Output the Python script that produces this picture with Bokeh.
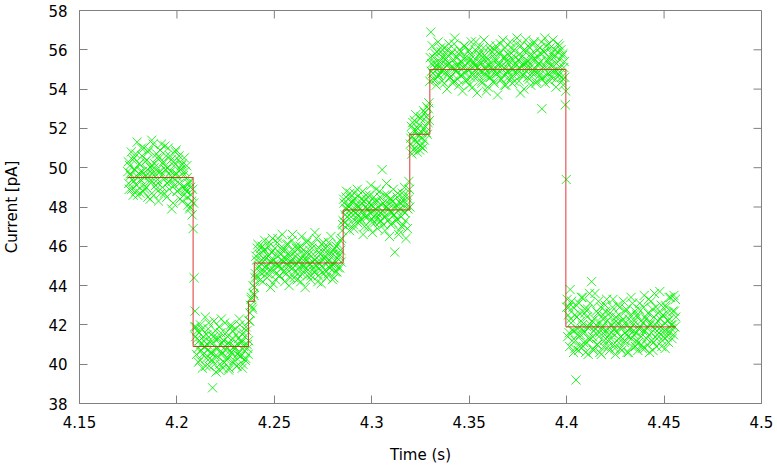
import numpy as np
from bokeh.plotting import figure
from bokeh.models import Range1d, FixedTicker
from bokeh.embed import file_html
from bokeh.resources import INLINE

# ---- data ----
# samples every 0.5 ms (series "a"), with a second interleaved set of samples
# taken half a step later (series "b")
sample_start_s = 4.1748
sample_step_s = 0.0005

seg_open1 = [49.8, 49.2, 50.1, 49.6, 48.9, 50.4, 49.3, 49.9, 50.7, 49.1,
             48.6, 49.7, 50.2, 49.4, 51.0, 49.8, 48.8, 49.5, 50.3, 49.0,
             49.9, 50.8, 49.6, 48.4, 50.1, 49.3, 51.2, 50.0, 49.7, 48.9,
             50.5, 49.2, 49.8, 50.9, 48.7, 49.6, 50.2, 49.4, 51.1, 49.9,
             48.5, 50.0, 49.3, 50.6, 49.8, 47.9, 49.5, 50.3, 49.1, 50.8,
             49.7, 48.8, 50.4, 49.2, 49.9, 50.1, 48.3, 49.6, 50.5, 49.0,
             48.8, 49.5, 48.1, 49.3, 48.0, 48.6, 47.6]
trans1 = [46.9, 44.4, 42.7]
seg_block1 = [41.9, 41.3, 40.8, 41.6, 40.2, 41.0, 41.8, 40.5, 41.2, 40.9,
              39.9, 41.5, 40.7, 42.1, 40.3, 41.1, 40.6, 38.8, 41.4, 40.0,
              41.7, 40.8, 40.4, 41.3, 39.7, 41.0, 42.3, 40.6, 41.2, 40.1,
              40.9, 41.6, 40.3, 41.1, 39.8, 40.7, 41.9, 40.5, 41.3, 40.2,
              40.8, 41.5, 39.9, 41.0, 40.6, 42.0, 40.4, 41.2, 40.0, 40.9,
              41.4, 40.3, 41.7, 40.8, 41.2]
seg_mid = [42.2, 43.0, 43.4, 42.8, 43.6, 43.9]
seg_level3 = [44.6, 45.3, 45.9, 44.9, 45.6, 44.3, 45.1, 46.0, 45.4, 44.7,
              45.8, 45.0, 44.4, 45.5, 46.2, 44.8, 45.2, 45.7, 44.1, 45.3,
              45.9, 44.6, 45.1, 46.4, 45.0, 44.5, 45.6, 44.9, 45.8, 45.2,
              44.2, 45.4, 46.1, 44.8, 45.0, 45.7, 44.4, 45.3, 46.6, 45.1,
              44.7, 45.5, 45.9, 44.3, 45.2, 44.9, 46.0, 45.4, 44.6, 45.8,
              45.0, 43.9, 45.3, 46.3, 44.8, 45.6, 45.1, 44.5, 45.9, 45.2,
              44.7, 46.7, 45.0, 45.4, 44.2, 45.7, 45.1, 44.8, 46.1, 45.3,
              44.6, 45.5, 45.9, 44.4, 45.2, 46.2, 44.9, 45.6, 45.0, 44.3,
              45.8, 45.1, 44.7, 46.0, 45.4, 44.9, 45.6, 46.3, 45.2, 46.8]
seg_level4 = [47.3, 48.2, 47.6, 48.5, 47.9, 47.1, 48.0, 48.7, 47.5, 48.3,
              47.8, 46.9, 48.4, 47.7, 48.1, 47.2, 48.6, 47.9, 47.4, 48.2,
              48.8, 47.6, 47.0, 48.0, 48.4, 47.5, 47.9, 48.6, 47.3, 48.1,
              46.7, 47.8, 48.3, 47.6, 48.9, 47.4, 48.0, 47.2, 48.5, 47.7,
              49.9, 48.2, 47.5, 46.8, 48.0, 48.6, 47.3, 47.9, 48.4, 47.1,
              47.7, 48.3, 47.6, 45.7, 48.1, 47.4, 48.7, 46.6, 47.9, 48.2,
              47.0, 48.5, 47.8, 49.0, 47.3, 48.1, 46.9, 48.4, 48.9]
seg_level5 = [51.2, 52.1, 51.6, 50.9, 52.4, 51.4, 51.9, 50.8, 51.7, 52.2,
              51.1, 52.6, 51.5, 51.0, 52.0, 52.8, 51.8, 53.1, 52.3, 53.3]
seg_level6 = [54.4, 56.9, 55.3, 54.8, 55.6, 55.1, 54.5, 55.9, 55.2, 54.7,
              55.4, 56.1, 54.9, 55.0, 55.7, 54.3, 55.5, 55.2, 56.0, 54.8,
              55.3, 54.6, 55.8, 55.1, 54.4, 56.3, 55.0, 54.9, 55.6, 55.2,
              54.2, 55.4, 55.9, 54.7, 55.1, 56.2, 54.8, 55.5, 54.5, 55.3,
              56.0, 55.0, 54.6, 55.7, 54.1, 55.4, 55.2, 56.4, 54.9, 55.1,
              54.7, 55.8, 55.3, 54.4, 55.6, 56.1, 54.8, 55.0, 53.9, 55.5,
              55.2, 54.6, 56.0, 55.1, 54.9, 55.7, 54.3, 55.4, 56.2, 55.0,
              54.8, 55.3, 55.9, 54.5, 55.2, 56.5, 54.7, 55.6, 54.2, 55.1,
              55.8, 54.9, 55.4, 56.1, 54.6, 55.0, 55.7, 54.4, 55.3, 56.3,
              54.8, 55.5, 55.1, 53.8, 55.6, 55.2, 54.7, 56.0, 55.3, 54.9,
              55.4, 56.2, 54.5, 55.1, 55.8, 54.8, 55.5, 56.4, 55.0, 54.3,
              55.7, 55.2, 54.9, 56.1, 55.4, 53.0, 54.6, 55.9, 56.6, 55.1,
              54.7, 55.5, 56.3, 54.4, 55.2, 55.8, 54.9, 55.6, 56.0, 54.5,
              55.3, 55.9, 54.8, 56.2, 55.1, 54.6, 55.7, 54.2, 55.4, 53.2]
trans6 = [49.4]
seg_level7 = [43.3, 42.5, 41.6, 43.8, 42.1, 41.2, 42.9, 41.7, 40.8, 39.2,
              42.4, 41.5, 43.1, 40.9, 42.2, 41.8, 43.4, 41.1, 42.6, 40.6,
              41.9, 42.8, 41.3, 43.6, 42.0, 44.2, 41.4, 40.7, 42.3, 41.8,
              42.7, 41.0, 43.2, 41.6, 42.1, 40.5, 41.9, 42.5, 41.2, 43.0,
              41.7, 42.2, 40.9, 41.5, 42.6, 41.3, 42.0, 43.3, 41.8, 40.8,
              42.4, 41.6, 42.1, 41.1, 42.9, 41.4, 40.7, 42.3, 41.9, 41.2,
              42.7, 41.5, 42.0, 40.6, 41.8, 42.5, 41.3, 43.1, 41.7, 42.2,
              40.9, 41.6, 42.4, 41.1, 42.8, 41.9, 41.4, 40.8, 42.1, 43.5,
              41.7, 42.3, 41.0, 42.6, 41.5, 42.0, 43.2, 41.2, 40.7, 42.4,
              41.8, 42.9, 41.3, 42.2, 41.6, 43.7, 41.9, 40.9, 42.5, 41.4,
              42.1, 43.0, 41.7, 42.6, 41.1, 42.3, 43.4, 41.8, 42.0, 41.5,
              42.7, 43.3]

seg_open1_b = [50.3, 48.9, 49.7, 50.8, 49.4, 48.6, 50.5, 49.9, 48.8, 51.3,
               49.5, 50.2, 48.7, 49.8, 50.6, 49.1, 51.0, 48.9, 49.6, 50.4,
               48.5, 50.9, 49.3, 50.0, 51.4, 49.7, 48.6, 50.2, 49.1, 50.7,
               49.4, 48.3, 50.5, 49.8, 51.2, 49.0, 50.3, 48.7, 49.9, 50.6,
               49.2, 51.0, 48.9, 49.6, 50.4, 49.3, 48.2, 50.1, 49.7, 50.9,
               48.8, 49.5, 50.6, 48.4, 49.9, 50.2, 49.0, 48.6, 49.8, 48.9,
               50.1, 48.5, 49.2, 47.9, 49.0, 48.3, 48.9]
trans1_b = [48.2, 41.9, 41.4]
seg_block1_b = [40.5, 41.7, 40.1, 41.2, 42.0, 40.7, 39.8, 41.4, 40.9, 42.4,
                40.3, 41.0, 41.8, 39.9, 40.6, 41.5, 40.2, 41.1, 42.2, 40.4,
                39.6, 41.3, 40.8, 41.9, 40.0, 41.6, 40.5, 39.8, 41.2, 42.1,
                40.7, 40.2, 41.4, 39.7, 41.0, 42.0, 40.6, 41.7, 40.1, 40.9,
                41.8, 39.9, 40.5, 41.3, 42.3, 40.4, 41.1, 39.8, 41.6, 40.7,
                40.2, 41.9, 41.0, 40.5, 42.2]
seg_mid_b = [42.6, 43.3, 42.9, 44.0, 43.5, 44.4]
seg_level3_b = [45.5, 44.4, 46.1, 45.0, 44.7, 45.9, 45.3, 44.2, 45.8, 46.3,
                44.9, 45.4, 44.6, 46.0, 45.2, 43.9, 45.7, 46.4, 44.8, 45.1,
                44.3, 45.6, 46.2, 45.0, 44.5, 45.9, 45.3, 46.6, 44.7, 45.4,
                45.8, 44.6, 45.1, 46.1, 44.0, 45.5, 45.2, 46.3, 44.9, 44.4,
                45.7, 46.0, 45.1, 44.6, 45.9, 45.3, 44.2, 46.5, 45.0, 45.6,
                44.8, 45.4, 46.2, 44.5, 45.1, 45.8, 44.3, 45.5, 46.1, 44.9,
                45.3, 44.7, 46.4, 45.2, 44.5, 45.9, 45.6, 44.1, 45.0, 46.2,
                45.4, 44.8, 45.7, 46.0, 44.6, 45.3, 44.9, 46.5, 45.1, 45.6,
                44.4, 45.9, 45.2, 44.7, 46.1, 45.5, 44.9, 45.8, 46.4, 47.1]
seg_level4_b = [48.4, 47.2, 47.9, 48.8, 47.5, 48.1, 46.8, 48.5, 47.7, 48.2,
                47.1, 48.7, 47.9, 47.4, 48.9, 47.6, 48.0, 47.3, 48.4, 47.8,
                46.6, 48.3, 47.5, 48.6, 47.9, 47.0, 48.2, 47.7, 49.1, 47.4,
                48.0, 48.5, 47.2, 47.9, 48.3, 46.9, 47.6, 48.8, 47.3, 48.1,
                47.8, 47.1, 48.6, 47.5, 49.2, 47.9, 48.2, 46.5, 47.7, 48.4,
                47.2, 48.9, 47.6, 48.0, 47.3, 48.5, 47.8, 46.8, 48.2, 47.5,
                48.7, 47.1, 48.3, 47.7, 46.4, 48.6, 47.9, 49.3, 48.0]
seg_level5_b = [51.5, 50.7, 52.3, 51.9, 51.0, 52.7, 51.3, 52.0, 51.6, 50.9,
                52.5, 51.8, 51.2, 52.9, 51.4, 52.1, 52.6, 51.7, 53.0, 52.4]
seg_level6_b = [55.6, 54.9, 56.2, 54.5, 55.3, 55.8, 54.2, 55.0, 56.4, 54.7,
                55.2, 55.9, 54.4, 55.6, 56.1, 54.8, 55.3, 54.0, 55.7, 56.3,
                54.6, 55.1, 55.9, 54.3, 55.5, 56.6, 54.9, 55.2, 54.5, 55.8,
                56.0, 54.7, 55.4, 53.9, 55.1, 56.2, 55.6, 54.4, 55.0, 55.9,
                54.2, 55.5, 56.4, 54.8, 55.3, 54.6, 56.0, 55.2, 53.8, 55.7,
                56.1, 54.9, 55.4, 54.3, 55.8, 56.5, 54.7, 55.1, 55.6, 54.1,
                55.3, 56.2, 54.6, 55.9, 55.0, 54.4, 56.0, 55.5, 54.8, 53.7,
                55.2, 55.8, 56.3, 54.5, 55.0, 55.6, 54.2, 56.1, 55.4, 54.9,
                54.6, 55.7, 56.4, 55.1, 54.3, 55.5, 56.0, 54.8, 55.2, 56.6,
                55.0, 54.4, 55.8, 56.2, 54.7, 55.3, 54.0, 55.9, 56.5, 55.1,
                54.6, 55.4, 56.1, 54.2, 55.7, 55.0, 56.3, 54.8, 55.5, 54.4,
                56.0, 55.3, 54.7, 55.8, 56.4, 54.5, 55.1, 55.9, 54.3, 56.2,
                55.4, 54.8, 55.6, 56.1, 54.6, 55.2, 56.5, 54.9, 55.7, 54.1,
                55.0, 56.3, 54.7, 55.5, 56.0, 54.4, 55.8, 55.1, 54.6, 53.9]
trans6_b = [42.9]
seg_level7_b = [41.4, 42.9, 40.9, 42.3, 43.2, 41.7, 40.6, 42.5, 41.2, 43.0,
                41.8, 40.7, 42.6, 41.5, 43.4, 42.0, 40.9, 41.6, 42.8, 41.1,
                42.4, 40.5, 41.9, 43.1, 41.3, 42.2, 40.8, 41.7, 43.6, 42.0,
                41.0, 42.6, 41.4, 40.6, 42.9, 41.8, 42.3, 40.9, 41.5, 42.7,
                43.3, 41.2, 41.9, 40.7, 42.4, 41.6, 42.9, 41.0, 42.1, 40.5,
                41.7, 43.0, 41.3, 42.5, 40.8, 41.9, 42.2, 43.2, 41.1, 41.6,
                42.8, 40.6, 41.4, 42.3, 41.8, 43.4, 40.9, 42.0, 41.5, 42.7,
                41.2, 42.5, 40.7, 41.8, 43.1, 42.2, 41.0, 41.7, 42.9, 40.8,
                42.4, 41.3, 41.9, 43.3, 40.6, 42.1, 41.6, 42.8, 41.1, 43.6,
                42.0, 40.9, 41.5, 42.6, 41.8, 42.3, 43.0, 41.2, 42.5, 41.7,
                40.8, 42.9, 41.4, 42.2, 43.4, 41.6, 42.0, 41.3, 42.7, 43.5,
                41.9, 42.4]

step_edges_s = [4.1746, 4.2083, 4.2367, 4.2397, 4.2853, 4.3195, 4.3298, 4.3996, 4.456]
step_levels_pa = [49.5, 40.9, 43.2, 45.15, 47.85, 51.7, 55.0, 41.9]

x_min, x_max = 4.15, 4.5
y_min, y_max = 38, 58
x_ticks = [4.15, 4.2, 4.25, 4.3, 4.35, 4.4, 4.45, 4.5]
x_tick_labels = ["4.15", "4.2", "4.25", "4.3", "4.35", "4.4", "4.45", "4.5"]
y_ticks = [38, 40, 42, 44, 46, 48, 50, 52, 54, 56, 58]

current_a = (seg_open1 + trans1 + seg_block1 + seg_mid + seg_level3 + seg_level4
             + seg_level5 + seg_level6 + trans6 + seg_level7)
current_b = (seg_open1_b + trans1_b + seg_block1_b + seg_mid_b + seg_level3_b + seg_level4_b
             + seg_level5_b + seg_level6_b + trans6_b + seg_level7_b)
time_a = sample_start_s + sample_step_s * np.arange(len(current_a))
time_b = sample_start_s + sample_step_s * (np.arange(len(current_b)) + 0.5)
time_s = np.concatenate([time_a, time_b])
current_pa = np.array(current_a + current_b)

# ---- figure ----
FONT = "DejaVu Sans"
GRAY = "#808080"
FRAME_W, FRAME_H = 682, 393
TICK_PX = 8

p = figure(frame_width=FRAME_W, frame_height=FRAME_H,
           x_range=Range1d(x_min, x_max), y_range=Range1d(y_min, y_max),
           output_backend="svg", toolbar_location=None,
           min_border_left=77, min_border_right=18, min_border_top=10, min_border_bottom=63)
p.grid.visible = False
p.outline_line_color = GRAY
p.outline_line_width = 1
p.background_fill_color = "white"
p.border_fill_color = "white"

p.scatter(time_s, current_pa, marker="x", size=13, line_color="#00f000", line_width=1, line_alpha=0.85)
p.step(x=step_edges_s, y=step_levels_pa + [step_levels_pa[-1]], mode="after",
       line_color="#dd1f1f", line_width=1, line_alpha=0.9)

# mirrored inward ticks on the top and right edges (gnuplot style)
dx = TICK_PX * (x_max - x_min) / FRAME_W
dy = TICK_PX * (y_max - y_min) / FRAME_H
p.segment(x0=x_ticks, y0=[y_max] * len(x_ticks), x1=x_ticks, y1=[y_max - dy] * len(x_ticks),
          line_color=GRAY, line_width=1)
p.segment(x0=[x_max] * len(y_ticks), y0=y_ticks, x1=[x_max - dx] * len(y_ticks), y1=y_ticks,
          line_color=GRAY, line_width=1)

def style_axis(ax, ticks):
    ax.ticker = FixedTicker(ticks=ticks)
    ax.axis_line_color = GRAY
    ax.major_tick_line_color = GRAY
    ax.major_tick_in = TICK_PX
    ax.major_tick_out = 0
    ax.minor_tick_line_color = None
    ax.major_label_text_font = FONT
    ax.major_label_text_font_size = "15px"
    ax.major_label_text_color = "black"
    ax.major_label_standoff = 12
    ax.axis_label_text_font = FONT
    ax.axis_label_text_font_size = "15px"
    ax.axis_label_text_font_style = "normal"
    ax.axis_label_text_color = "black"

xa = p.xaxis[0]
style_axis(xa, x_ticks)
xa.major_label_overrides = {t: s for t, s in zip(x_ticks, x_tick_labels)}
xa.axis_label = "Time (s)"
xa.axis_label_standoff = 15

ya = p.yaxis[0]
style_axis(ya, y_ticks)
ya.axis_label = "Current [pA]"
ya.axis_label_standoff = 24

open("out.html", "w").write(file_html(p, INLINE))
